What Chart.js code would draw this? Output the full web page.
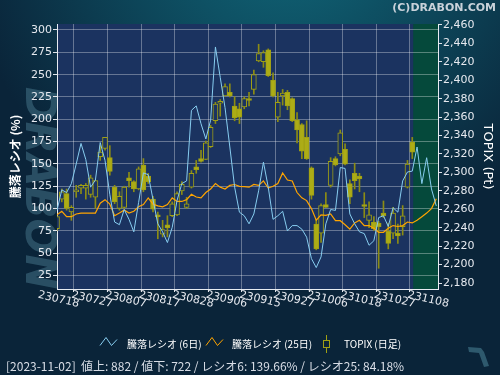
<!DOCTYPE html>
<html>
<head>
<meta charset="utf-8">
<script src="https://cdn.jsdelivr.net/npm/chart.js@4.4.0/dist/chart.umd.min.js"></script>
<style>
  html, body { margin: 0; padding: 0; background: #0a2238; }
  #wrap { width: 500px; height: 375px; }
</style>
</head>
<body>
<div id="wrap"><canvas id="c" width="500" height="375"></canvas></div>
<script>
// x axis: one slot per trading day, label every 7 days
var tickLabels = ['230718', '230727', '230807', '230817', '230828', '230906',
                  '230915', '230927', '231006', '231018', '231027', '231108'];
var tickStep = 7;
var lastIdx = 74; // 2023-11-02, last day with a candle

// TOPIX daily candles
var openV = [2239, 2271, 2277, 2257, 2279, 2283, 2283, 2276, 2273, 2317,
             2326, 2316, 2284, 2261, 2262, 2294, 2290, 2282, 2308, 2296,
             2271, 2254, 2233, 2243, 2253, 2254, 2280, 2262, 2284, 2306,
             2315, 2314, 2328, 2356, 2375, 2383, 2387, 2372, 2369, 2371,
             2380, 2390, 2421, 2420, 2433, 2400, 2360, 2383, 2387, 2380,
             2357, 2352, 2338, 2305, 2244, 2234, 2265, 2286, 2315, 2320,
             2325, 2288, 2299, 2296, 2265, 2248, 2246, 2245, 2256, 2236,
             2234, 2234, 2241, 2284, 2333];
var highV = [2253, 2282, 2282, 2264, 2286, 2287, 2288, 2297, 2291, 2329,
             2338, 2329, 2286, 2279, 2285, 2300, 2291, 2306, 2315, 2299,
             2274, 2257, 2248, 2253, 2268, 2279, 2290, 2273, 2302, 2313,
             2324, 2334, 2351, 2376, 2379, 2396, 2396, 2382, 2375, 2382,
             2387, 2411, 2439, 2432, 2434, 2408, 2387, 2390, 2389, 2381,
             2365, 2353, 2356, 2306, 2249, 2266, 2278, 2316, 2317, 2346,
             2331, 2292, 2310, 2299, 2278, 2268, 2252, 2247, 2269, 2245,
             2262, 2244, 2264, 2313, 2338];
var lowV = [2237, 2268, 2259, 2248, 2273, 2277, 2271, 2273, 2261, 2313,
            2324, 2297, 2266, 2259, 2261, 2284, 2279, 2281, 2279, 2288,
            2257, 2228, 2230, 2230, 2252, 2253, 2276, 2261, 2283, 2299,
            2311, 2314, 2327, 2353, 2361, 2383, 2382, 2356, 2353, 2369,
            2372, 2385, 2420, 2414, 2404, 2382, 2355, 2373, 2368, 2355,
            2332, 2315, 2314, 2271, 2216, 2224, 2262, 2284, 2307, 2318,
            2308, 2266, 2282, 2279, 2251, 2240, 2237, 2196, 2251, 2217,
            2228, 2223, 2232, 2283, 2315];
var closeV = [2252, 2279, 2261, 2262, 2281, 2286, 2286, 2294, 2291, 2322,
              2338, 2301, 2268, 2274, 2284, 2291, 2282, 2304, 2281, 2290,
              2260, 2252, 2238, 2240, 2266, 2277, 2287, 2266, 2299, 2303,
              2312, 2332, 2349, 2374, 2377, 2393, 2383, 2359, 2360, 2380,
              2378, 2406, 2429, 2430, 2405, 2383, 2376, 2386, 2372, 2356,
              2346, 2323, 2315, 2275, 2217, 2264, 2262, 2312, 2308, 2343,
              2309, 2273, 2291, 2293, 2263, 2254, 2239, 2241, 2253, 2223,
              2256, 2231, 2253, 2309, 2322];

// advance/decline ratios (%)
var ratio6 = [98, 121, 118, 128, 150, 173, 155, 124, 132, 174,
              154, 116, 85, 82, 99, 88, 74, 107, 140, 138,
              110, 83, 74, 62, 79, 109, 128, 131, 210, 215,
              195, 178, 199, 281, 247, 213, 169, 124, 96, 92,
              83, 94, 120, 152, 124, 88, 92, 97, 75, 81,
              81, 77, 68, 44, 34, 46, 83, 99, 98, 146,
              145, 94, 83, 74, 72, 59, 64, 90, 92, 80,
              101, 96, 131, 141, 142, 169, 128, 157, 122, 103];
var ratio25 = [93, 97, 91, 91, 94, 95, 95, 95, 95, 106,
               110, 105, 92, 95, 98.5, 95, 97, 102, 104.5, 112,
               105, 103, 102, 104.5, 112, 108, 108, 110, 116, 113,
               112, 118, 122, 128, 124, 122, 126, 127, 125, 124.6,
               124, 127, 126, 131, 123, 125, 128, 140, 132, 131,
               118, 112, 109, 100, 87, 93, 92.5, 94, 86.5, 86.5,
               82, 77, 84, 87, 81, 81, 78, 73.5, 73.5, 78,
               81, 80, 81, 85, 84, 87, 91, 95, 100, 111];

var seriesNames = ['騰落レシオ (6日)', '騰落レシオ (25日)', 'TOPIX (日足)'];
var footerText = '[2023-11-02]  値上: 882 / 値下: 722 / レシオ6: 139.66% / レシオ25: 84.18%';

var FONT = '"DejaVu Sans", "Noto Sans CJK JP", sans-serif';
var JP = '"Noto Sans CJK JP", "DejaVu Sans", sans-serif';
var PLOT_BG = '#1b3360';
var BLUE = 'rgb(135,205,240)';
var ORANGE = 'rgb(255,165,0)';
var OLIVE = 'rgb(160,160,20)';
var TXT = '#e6e9ef';

function xy(arr) { return arr.map(function (v, i) { return {x: i, y: v}; }); }

var decor = {
  id: 'decor',
  beforeDraw: function (chart) {
    var ctx = chart.ctx, a = chart.chartArea;
    var g = ctx.createRadialGradient(290, -80, 10, 290, -80, 330);
    g.addColorStop(0, '#10687a');
    g.addColorStop(1, '#0a2439');
    ctx.fillStyle = g;
    ctx.fillRect(0, 0, 500, 375);

    // watermark
    ctx.save();
    ctx.translate(37, 188);
    ctx.rotate(Math.PI / 2);
    ctx.font = 'italic bold 42px "DejaVu Sans"';
    ctx.fillStyle = 'rgba(80,130,150,0.45)';
    ctx.textAlign = 'center';
    ctx.textBaseline = 'middle';
    ctx.fillText('DRABON', 0, 0);
    ctx.restore();

    // small mark bottom right
    ctx.fillStyle = 'rgba(70,125,145,0.6)';
    ctx.beginPath();
    ctx.moveTo(468, 347); ctx.lineTo(481, 348); ctx.lineTo(484, 352);
    ctx.lineTo(489, 366); ctx.lineTo(484, 367); ctx.lineTo(479, 353);
    ctx.lineTo(469, 352); ctx.closePath(); ctx.fill();

    ctx.fillStyle = PLOT_BG;
    ctx.fillRect(a.left, a.top, a.right - a.left, a.bottom - a.top);
    var gx = chart.scales.x.getPixelForValue(lastIdx + 0.2);
    ctx.fillStyle = '#05493b';
    ctx.fillRect(gx, a.top, a.right - gx, a.bottom - a.top);
  },
  afterDraw: function (chart) {
    var ctx = chart.ctx, sx = chart.scales.x;
    ctx.save();
    // x labels, slanted
    ctx.font = '11px ' + FONT;
    ctx.fillStyle = TXT;
    ctx.textAlign = 'center';
    ctx.textBaseline = 'middle';
    tickLabels.forEach(function (t, k) {
      var px = sx.getPixelForValue(k * tickStep);
      ctx.save();
      ctx.translate(px + 1.5, 299.5);
      ctx.rotate(13 * Math.PI / 180);
      ctx.fillText(t, 0, 0);
      ctx.restore();
    });

    // copyright
    ctx.font = 'bold 11px "DejaVu Sans"';
    ctx.fillStyle = '#c9d2da';
    ctx.textAlign = 'right';
    ctx.fillText('(C)DRABON.COM', 496, 8.5);

    // legend
    ctx.textAlign = 'left';
    ctx.font = '10px ' + JP;
    ctx.lineWidth = 1;
    function zig(x0, col) {
      ctx.strokeStyle = col;
      ctx.beginPath();
      ctx.moveTo(x0, 345.5); ctx.lineTo(x0 + 6, 337.5);
      ctx.lineTo(x0 + 11.5, 345.5); ctx.lineTo(x0 + 17, 339.5);
      ctx.stroke();
    }
    zig(100, BLUE);
    ctx.fillStyle = '#ffffff';
    ctx.fillText(seriesNames[0], 127, 344);
    zig(206, ORANGE);
    ctx.fillText(seriesNames[1], 232, 344);
    ctx.strokeStyle = OLIVE;
    ctx.beginPath();
    ctx.moveTo(326.5, 335); ctx.lineTo(326.5, 340);
    ctx.moveTo(326.5, 348); ctx.lineTo(326.5, 353);
    ctx.stroke();
    ctx.strokeRect(323.5, 340.5, 6, 7);
    ctx.fillText(seriesNames[2], 344, 344);

    // footer
    ctx.font = '12px ' + JP;
    ctx.fillStyle = '#d8dde6';
    ctx.fillText(footerText, 6, 366);
    ctx.restore();
  }
};

var ctx = document.getElementById('c');
var chart = new Chart(ctx, {
  type: 'line',
  data: {
    datasets: [
      {
        type: 'line', label: seriesNames[0], data: xy(ratio6), yAxisID: 'y',
        borderColor: BLUE, borderWidth: 1, pointRadius: 0, tension: 0, order: 0
      },
      {
        type: 'line', label: seriesNames[1], data: xy(ratio25), yAxisID: 'y',
        borderColor: ORANGE, borderWidth: 1.2, pointRadius: 0, tension: 0, order: 1
      },
      {
        type: 'bar', label: 'body', yAxisID: 'y2', grouped: false, order: 2,
        data: openV.map(function (o, i) { return {x: i, y: [o, closeV[i]]}; }),
        barThickness: 5, borderWidth: 1, borderSkipped: false,
        borderColor: OLIVE,
        backgroundColor: function (c) {
          var i = c.dataIndex;
          return closeV[i] >= openV[i] ? PLOT_BG : 'rgb(172,172,22)';
        }
      },
      {
        type: 'bar', label: 'wick', yAxisID: 'y2', grouped: false, order: 3,
        data: lowV.map(function (l, i) { return {x: i, y: [l, highV[i]]}; }),
        barThickness: 1, borderWidth: 0, backgroundColor: 'rgb(140,140,20)'
      }
    ]
  },
  options: {
    responsive: false,
    animation: false,
    devicePixelRatio: 1,
    layout: { padding: { top: 24, bottom: 82, left: 0, right: 0 } },
    plugins: { legend: { display: false }, tooltip: { enabled: false } },
    scales: {
      x: {
        type: 'linear', min: 0, max: 79.36, offset: false,
        ticks: { display: false, stepSize: tickStep, includeBounds: false },
        grid: { color: 'rgba(255,255,255,0.33)', tickColor: '#e0e4ea', tickLength: 3 },
        border: { color: '#e8ecf2' },
        afterFit: function (s) { s.height = 4; }
      },
      y: {
        position: 'left', min: 10, max: 306.7,
        ticks: { stepSize: 25, includeBounds: false, color: TXT, padding: 1,
                 font: { family: FONT, size: 11 } },
        grid: { color: 'rgba(255,255,255,0.33)', tickColor: '#e0e4ea', tickLength: 4 },
        border: { color: '#e8ecf2' },
        title: { display: true, text: '騰落レシオ (%)', color: '#ffffff',
                 font: { family: JP, size: 12, weight: 'bold' }, padding: { top: 8 } },
        afterFit: function (s) { s.width = 57; }
      },
      y2: {
        position: 'right', min: 2173.5, max: 2461,
        ticks: { stepSize: 20, includeBounds: false, color: TXT, padding: 1,
                 font: { family: FONT, size: 11 } },
        grid: { drawOnChartArea: false, tickColor: '#e0e4ea', tickLength: 4 },
        border: { color: '#e8ecf2' },
        title: { display: true, text: 'TOPIX (Pt)', color: '#ffffff',
                 font: { family: FONT, size: 13 }, padding: { top: 5 } },
        afterFit: function (s) { s.width = 62; }
      }
    }
  },
  plugins: [decor]
});
</script>
</body>
</html>
